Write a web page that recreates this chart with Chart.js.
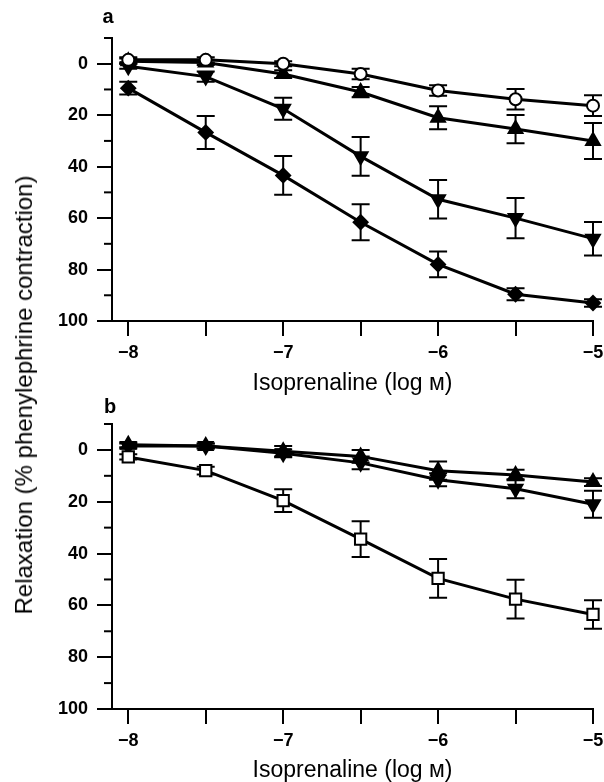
<!DOCTYPE html>
<html>
<head>
<meta charset="utf-8">
<script src="https://cdn.jsdelivr.net/npm/chart.js@4.4.1/dist/chart.umd.min.js"></script>
<style>
  body { margin: 0; background: #fff; }
  #wrap { position: relative; width: 604px; height: 782px; font-family: "Liberation Sans", Arial, Helvetica, sans-serif; color: #000; }
  canvas { position: absolute; left: 0; }
  #chartA { top: 0; }
  #chartB { top: 390px; }
  .panel { position: absolute; font-weight: bold; font-size: 20px; line-height: 1; transform: translate(-50%, -50%); }
  #ytitle { position: absolute; left: 24px; top: 395px; font-size: 24px; line-height: 1; white-space: nowrap; transform: translate(-50%, -50%) rotate(-90deg); }
</style>
</head>
<body>
<div id="wrap">
  <canvas id="chartA" width="604" height="400"></canvas>
  <canvas id="chartB" width="604" height="392"></canvas>
  <div class="panel" style="left:108px; top:16px;">a</div>
  <div class="panel" style="left:110px; top:406px;">b</div>
  <div id="ytitle">Relaxation (% phenylephrine contraction)</div>
</div>
<script>
// log concentration of isoprenaline
const doses = [-8, -7.5, -7, -6.5, -6, -5.5, -5];
const xTicks = [-8, -7.5, -7, -6.5, -6, -5.5, -5];
const yMinor = [-10, 10, 30, 50, 70, 90];

// panel a
const circleA = [-1.5, -1.5, 0, 4, 10.4, 13.8, 16.3];
const circleAErr = [1, 1, 1, 2, 2, 4, 4];
const upA = [-1, -0.5, 4, 11, 21, 25.4, 30];
const upAErr = [1, 1, 1.5, 2, 4.5, 5.5, 7];
const downA = [1, 5, 17.5, 36, 52.7, 60, 68];
const downAErr = [1, 2, 4.3, 7.5, 7.5, 7.8, 6.5];
const diamondA = [9.5, 26.7, 43.4, 61.6, 78, 89.6, 93];
const diamondAErr = [2.5, 6.4, 7.5, 7, 5, 2.3, 1.5];

// panel b
const squareB = [2.7, 8, 19.6, 34.4, 49.6, 57.6, 63.5];
const squareBErr = [1, 1.5, 4.4, 6.9, 7.5, 7.5, 5.5];
const upB = [-2, -1.5, 0.5, 2.5, 8, 9.7, 12.4];
const upBErr = [1, 1, 2, 2.5, 3.5, 2, 1.5];
const downB = [-1.5, -1.5, 1.3, 5, 11.5, 15, 21];
const downBErr = [1, 1, 1.5, 2.5, 2.5, 3.7, 5.2];

const FONT = '"Liberation Sans", Arial, Helvetica, sans-serif';

function series(values, errors, style) {
  return Object.assign({
    data: doses.map((d, i) => ({ x: d, y: values[i] })),
    errors: errors,
    showLine: true,
    clip: false,
    borderColor: '#000',
    borderWidth: 3,
    pointBorderColor: '#000',
    pointBorderWidth: 2,
    pointBackgroundColor: '#000',
    pointRadius: 7,
    tension: 0
  }, style);
}

// error bars and minor y ticks
const extras = {
  id: 'extras',
  beforeDatasetsDraw(chart) {
    const ctx = chart.ctx;
    const y = chart.scales.y;
    ctx.save();
    ctx.strokeStyle = '#000';
    ctx.lineWidth = 2;
    chart.data.datasets.forEach((ds, di) => {
      const meta = chart.getDatasetMeta(di);
      ds.data.forEach((p, i) => {
        const e = ds.errors[i];
        const px = meta.data[i].x;
        const top = y.getPixelForValue(p.y - e);
        const bot = y.getPixelForValue(p.y + e);
        ctx.beginPath();
        ctx.moveTo(px, top); ctx.lineTo(px, bot);
        ctx.moveTo(px - 9, top); ctx.lineTo(px + 9, top);
        ctx.moveTo(px - 9, bot); ctx.lineTo(px + 9, bot);
        ctx.stroke();
      });
    });
    ctx.restore();
  },
  afterDraw(chart) {
    const ctx = chart.ctx;
    const y = chart.scales.y;
    ctx.save();
    ctx.strokeStyle = '#000';
    ctx.lineWidth = 2;
    yMinor.forEach(v => {
      const py = y.getPixelForValue(v);
      ctx.beginPath();
      ctx.moveTo(y.right - 8, py);
      ctx.lineTo(y.right, py);
      ctx.stroke();
    });
    ctx.restore();
  }
};

function makeChart(id, datasets, padTop, xHeight, titlePad) {
  return new Chart(document.getElementById(id), {
    type: 'scatter',
    data: { datasets: datasets },
    plugins: [extras],
    options: {
      responsive: false,
      animation: false,
      layout: { padding: { top: padTop, right: 11, left: 0, bottom: 0 } },
      plugins: { legend: { display: false }, tooltip: { enabled: false } },
      scales: {
        x: {
          type: 'linear',
          min: -8.105,
          max: -5,
          afterBuildTicks: s => { s.ticks = xTicks.map(v => ({ value: v })); },
          afterFit: s => { s.height = xHeight; s.paddingRight = 8; },
          ticks: {
            color: '#000',
            padding: 6,
            maxRotation: 0,
            autoSkip: false,
            font: { family: FONT, size: 18, weight: 'bold' },
            callback: v => Number.isInteger(v) ? '\u2212' + Math.abs(v) : ''
          },
          grid: { drawOnChartArea: false, drawTicks: true, tickLength: 15, color: '#000', lineWidth: 2 },
          border: { display: true, color: '#000', width: 2 },
          title: {
            display: true,
            text: 'Isoprenaline (log \u1D0D)',
            color: '#000',
            padding: { top: 0, bottom: titlePad },
            font: { family: FONT, size: 23, lineHeight: 1 }
          }
        },
        y: {
          reverse: true,
          min: -10,
          max: 100,
          afterFit: s => { s.width = 112; },
          ticks: {
            stepSize: 10,
            color: '#000',
            padding: 9,
            font: { family: FONT, size: 18, weight: 'bold' },
            callback: v => (v >= 0 && v % 20 === 0) ? String(v) : ''
          },
          grid: {
            drawOnChartArea: false,
            drawTicks: true,
            tickLength: 15,
            lineWidth: 2,
            color: c => (c.tick && c.tick.value >= 0 && c.tick.value % 20 === 0) ? '#000' : 'rgba(0,0,0,0)'
          },
          border: { display: true, color: '#000', width: 2 }
        }
      }
    }
  });
}

makeChart('chartA', [
  series(circleA, circleAErr, { pointStyle: 'circle', pointBackgroundColor: '#fff', pointRadius: 6 }),
  series(upA, upAErr, { pointStyle: 'triangle', pointRadius: 8 }),
  series(downA, downAErr, { pointStyle: 'triangle', pointRotation: 180, pointRadius: 8 }),
  series(diamondA, diamondAErr, { pointStyle: 'rectRot', pointRadius: 7 })
], 38, 79, 5);

makeChart('chartB', [
  series(squareB, squareBErr, { pointStyle: 'rect', pointBackgroundColor: '#fff', pointRadius: 8 }),
  series(upB, upBErr, { pointStyle: 'triangle', pointRadius: 8 }),
  series(downB, downBErr, { pointStyle: 'triangle', pointRotation: 180, pointRadius: 8 })
], 34, 73, 0);
</script>
</body>
</html>
